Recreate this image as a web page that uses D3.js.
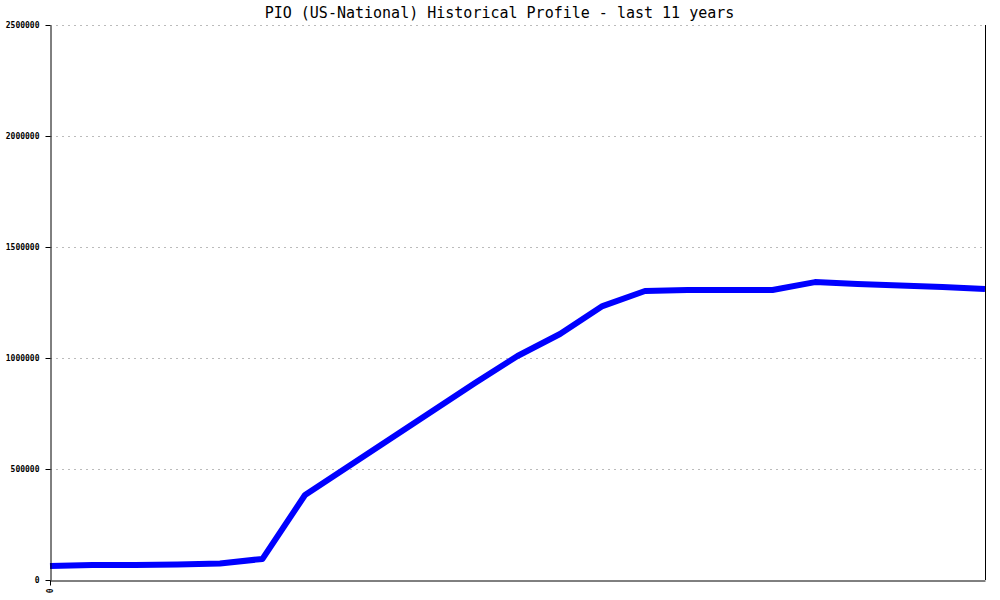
<!DOCTYPE html>
<html><head><meta charset="utf-8">
<script src="https://cdn.jsdelivr.net/npm/d3@7"></script>
<style>body{margin:0;background:#fff}</style>
</head><body>
<svg id="c" width="1000" height="600"></svg>
<script>
const title = "PIO (US-National) Historical Profile - last 11 years";
const periods = d3.range(23); // sample index
const values = [63000, 68000, 68000, 70000, 74000, 95000, 383000, 509000, 635000, 761000, 887000, 1009000, 1108000, 1234000, 1302000, 1306000, 1306000, 1306000, 1342000, 1333000, 1327000, 1320000, 1311000];
const yTicks = [0, 500000, 1000000, 1500000, 2000000, 2500000];
const xTickLabels = ["0"];

const svg = d3.select("#c");
const L = 50, R = 985, T = 25, B = 580;
const x = d3.scaleLinear().domain([0, periods.length - 1]).range([L, R]);
const y = d3.scaleLinear().domain([0, 2500000]).range([B, T]);

svg.append("rect").attr("width",1000).attr("height",600).attr("fill","#fff");

// grid
svg.append("g").selectAll("line").data(yTicks.filter(d=>d>0)).join("line")
  .attr("x1", L).attr("x2", R).attr("y1", d=>y(d)+0.5).attr("y2", d=>y(d)+0.5)
  .attr("stroke","#bbb").attr("stroke-dasharray","2,4").attr("stroke-width",1);

// line
svg.append("path").datum(values)
  .attr("d", d3.line().x((d,i)=>x(periods[i])).y(d=>y(d)))
  .attr("fill","none").attr("stroke","#0000ff").attr("stroke-width",6)
  .attr("stroke-linejoin","round");

// y axis
const ya = svg.append("g").attr("transform",`translate(${L+0.5},0)`)
  .call(d3.axisLeft(y).tickValues(yTicks).tickSize(5).tickSizeOuter(0).tickFormat(d3.format("d")));
ya.select(".domain").attr("stroke","#000");
ya.selectAll("text").attr("font-family","DejaVu Sans Mono").attr("font-size",8).attr("font-weight","bold").attr("fill","#000").attr("dx",-3);

// x axis
const xa = svg.append("g").attr("transform",`translate(0,${B+0.5})`)
  .call(d3.axisBottom(x).tickValues([0]).tickSize(5).tickSizeOuter(0).tickFormat((d,i)=>xTickLabels[i]));
xa.select(".domain").attr("stroke","#000");
xa.selectAll("text").attr("font-family","DejaVu Sans Mono").attr("font-size",8).attr("font-weight","bold")
  .attr("transform","rotate(-90)").attr("text-anchor","end").attr("x",-8).attr("y",0).attr("dy","0.32em");

// right border
svg.append("line").attr("x1",R+0.5).attr("x2",R+0.5).attr("y1",T).attr("y2",B).attr("stroke","#000");

svg.append("text").attr("x",(L+R)/2 - 18).attr("y",18).attr("text-anchor","middle")
  .attr("font-family","DejaVu Sans Mono").attr("font-size",15).attr("fill","#000").text(title);
</script>
</body></html>
